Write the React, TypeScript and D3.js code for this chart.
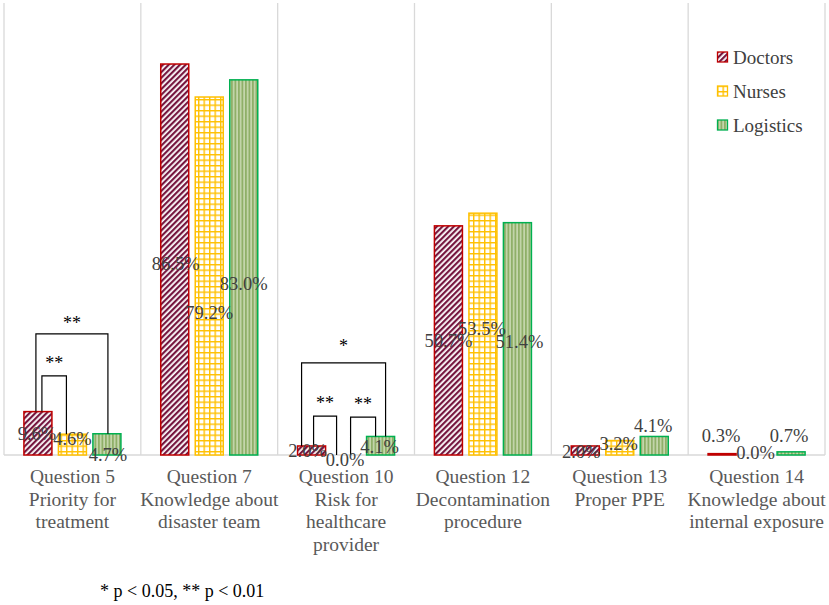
import React from 'react';
import * as d3 from 'd3';

// chart values
const categories: string[][] = [
  ['Question 5', 'Priority for', 'treatment'],
  ['Question 7', 'Knowledge about', 'disaster team'],
  ['Question 10', 'Risk for', 'healthcare', 'provider'],
  ['Question 12', 'Decontamination', 'procedure'],
  ['Question 13', 'Proper PPE'],
  ['Question 14', 'Knowledge about', 'internal exposure'],
];
const seriesNames = ['Doctors', 'Nurses', 'Logistics'];
const doctors = [9.6, 86.5, 2.0, 50.7, 2.0, 0.3];
const nurses = [4.6, 79.2, 0.0, 53.5, 3.2, 0.0];
const logistics = [4.7, 83.0, 4.1, 51.4, 4.1, 0.7];
const seriesValues = [doctors, nurses, logistics];

// significance brackets: category, from series, to series, bracket height (%)
const brackets = [
  { cat: 0, from: 0, to: 2, level: 26.8, text: '**' },
  { cat: 0, from: 0, to: 1, level: 17.5, text: '**' },
  { cat: 2, from: 0, to: 2, level: 20.4, text: '*' },
  { cat: 2, from: 0, to: 1, level: 8.6, text: '**' },
  { cat: 2, from: 1, to: 2, level: 8.4, text: '**' },
];
const footnote = '* p < 0.05, ** p < 0.01';

// layout tweaks (px) for hand-placed labels, same order as data
const labelShift: [number, number][][] = [
  [[-1, 0], [0, -6], [1, 10]],
  [[1, 4], [0, 37], [0, 16]],
  [[-4, 0], [-1, 5], [-1, 1]],
  [[0, 0], [-1, -6], [2, 3]],
  [[-4, 1], [-1, -4], [-1, -20]],
  [[-1, -19], [-1, -2], [-2, -18]],
];
const legShift: [number, number][] = [[-2, 1], [4, -6], [-10, 5], [2, -9.5], [4.5, -5]];
const starDy = [-5, -7, -11, -7, -7];

const W = 829;
const H = 605;
const left = 4;
const right = 825;
const base = 455;
const serif = '"Liberation Serif", "Times New Roman", serif';

const fills = ['url(#pDoc)', 'url(#pNur)', 'url(#pLog)'];
const strokes = ['#C00000', '#FFC000', '#00B050'];

export default function App() {
  const x = d3.scaleBand<number>()
    .domain(d3.range(categories.length))
    .range([left, right])
    .padding(0);
  const xs = d3.scaleBand<number>()
    .domain(d3.range(seriesNames.length))
    .range([0, x.bandwidth()])
    .paddingInner(0.188)
    .paddingOuter(0.577);
  const y = d3.scaleLinear().domain([0, 100]).range([base, 3]);

  const barCx = (c: number, s: number) => (x(c) || 0) + (xs(s) || 0) + xs.bandwidth() / 2;

  return (
    <>
      <style>{'body{margin:0}'}</style>
      <svg width={W} height={H} style={{ display: 'block', fontFamily: serif }}>
        <defs>
          <pattern id="pDoc" width="4" height="4" patternUnits="userSpaceOnUse" patternTransform="rotate(45)">
            <rect width="4" height="4" fill="#ffffff" />
            <rect width="2.2" height="4" fill="#76163F" />
          </pattern>
          <pattern id="pNur" width="5.5" height="5.5" patternUnits="userSpaceOnUse">
            <rect width="5.5" height="5.5" fill="#ffffff" />
            <rect width="5.5" height="1.4" fill="#FFC000" />
            <rect width="1.4" height="5.5" fill="#FFC000" />
          </pattern>
          <pattern id="pLog" width="3.5" height="4" patternUnits="userSpaceOnUse">
            <rect width="3.5" height="4" fill="#C4D6AC" />
            <rect width="1.8" height="4" fill="#8FAF68" />
          </pattern>
        </defs>

        {/* category separators */}
        {d3.range(categories.length + 1).map(i => {
          const gx = i < categories.length ? (x(i) || 0) : right;
          return <line key={i} x1={gx} x2={gx} y1={3} y2={base} stroke="#D9D9D9" strokeWidth={1.3} />;
        })}
        <line x1={left} x2={right} y1={base} y2={base} stroke="#D9D9D9" strokeWidth={1.3} />

        {/* bars */}
        {seriesValues.map((vals, s) =>
          vals.map((v, c) => v > 0 ? (
            <rect
              key={`b${s}-${c}`}
              x={(x(c) || 0) + (xs(s) || 0)}
              y={y(v)}
              width={xs.bandwidth()}
              height={base - y(v)}
              fill={fills[s]}
              stroke={strokes[s]}
              strokeWidth={1.5}
            />
          ) : null)
        )}

        {/* significance brackets */}
        {brackets.map((b, i) => {
          const x1 = barCx(b.cat, b.from) + legShift[i][0];
          const x2 = barCx(b.cat, b.to) + legShift[i][1];
          const top = y(b.level);
          const y1 = y(seriesValues[b.from][b.cat]);
          const y2 = y(seriesValues[b.to][b.cat]);
          return (
            <g key={`k${i}`}>
              <path d={`M${x1},${y1}V${top}H${x2}V${y2}`} fill="none" stroke="#000" strokeWidth={1.2} />
              <text x={(x1 + x2) / 2} y={top + starDy[i]} textAnchor="middle" fontSize={18} fill="#000">{b.text}</text>
            </g>
          );
        })}

        {/* data labels */}
        {seriesValues.map((vals, s) =>
          vals.map((v, c) => (
            <text
              key={`l${s}-${c}`}
              x={barCx(c, s) + labelShift[c][s][0]}
              y={(y(v) + base) / 2 + labelShift[c][s][1]}
              dy="0.35em"
              textAnchor="middle"
              fontSize={18.5}
              fill="#404040"
            >{`${v.toFixed(1)}%`}</text>
          ))
        )}

        {/* category labels */}
        {categories.map((lines, c) => (
          <text key={`c${c}`} x={(x(c) || 0) + x.bandwidth() / 2} y={483} textAnchor="middle" fontSize={19.5} fill="#595959">
            {lines.map((t, j) => (
              <tspan key={j} x={(x(c) || 0) + x.bandwidth() / 2} dy={j === 0 ? 0 : 22.5}>{t}</tspan>
            ))}
          </text>
        ))}

        {/* legend */}
        {seriesNames.map((name, s) => (
          <g key={`g${s}`} transform={`translate(717,${57 + s * 34})`}>
            <rect x={0.5} y={-5} width={10} height={10} fill={fills[s]} stroke={strokes[s]} strokeWidth={1.3} />
            <text x={16} y={0} dy="0.35em" fontSize={19} fill="#404040">{name}</text>
          </g>
        ))}

        <text x={100} y={597} fontSize={18} fill="#000">{footnote}</text>
      </svg>
    </>
  );
}
